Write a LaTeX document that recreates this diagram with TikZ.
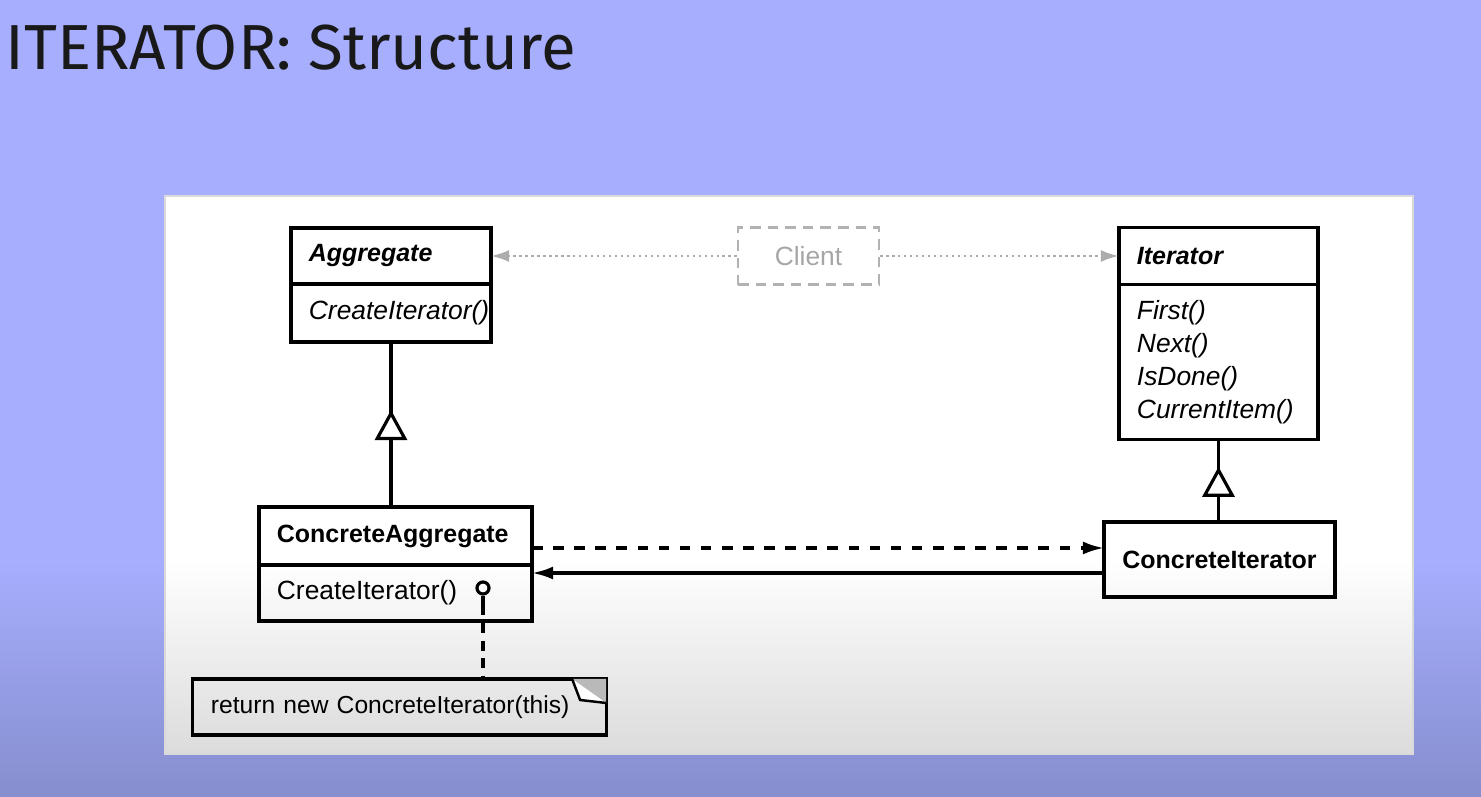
\documentclass[tikz,border=0pt]{standalone}
\usepackage{fontspec}
\setmainfont{Liberation Sans}
\newfontfamily\titlefont{Fira Sans}
\usepackage{tikz}
\usetikzlibrary{positioning,arrows.meta,decorations.markings}
\definecolor{slidetop}{RGB}{167,174,254}
\definecolor{slidebot}{RGB}{134,142,206}

\begin{document}
\begin{tikzpicture}[x=0.01cm,y=-0.01cm,>=Latex,
  uml/.style={draw,line width=0.9pt,outer sep=0pt,inner xsep=0.18cm,inner ysep=0pt,
    align=left,font=\fontsize{7.5}{9.4}\selectfont},
  umlname/.style={uml,font=\fontsize{7.1}{9}\selectfont\bfseries},
  clientbox/.style={draw=gray!60,densely dashed,line width=0.6pt,text=gray!70,
    minimum width=1.41cm,minimum height=0.57cm,font=\fontsize{7.5}{9}\selectfont},
  clientlink/.style={gray!65,densely dotted,line width=0.7pt,-{Latex[length=1.8mm,width=1.2mm]}},
  assoc/.style={line width=0.9pt,-{Latex[length=2.1mm,width=1.3mm]}},
  gen/.style={line width=0.9pt,decoration={markings,
    mark=at position #1 with {\arrow[line width=0.9pt]{Triangle[fill=white,length=3mm,width=3.2mm]}}},
    postaction={decorate}},
  notelink/.style={line width=0.9pt,dash pattern=on 2.8pt off 2.2pt}]
  % Slide
  \useasboundingbox (0,0) rectangle (1481,797);
  \fill[slidetop] (0,0) rectangle (1481,560);
  \shade[top color=slidetop,bottom color=slidebot] (0,560) rectangle (1481,797);
  \node[anchor=base west,inner sep=0,text=black!90,
    font=\titlefont\fontsize{18.1}{22}\selectfont] (title) at (5,69) {ITERATOR: Structure};
  %
  % Panel
  \fill[white] (165,196) rectangle (1413,560);
  \shade[top color=white,bottom color=black!14] (165,560) rectangle (1413,754);
  \draw[black!15,thin] (165,196) rectangle (1413,754);
  %
  % Classes
  \node[umlname,text width=1.64cm,minimum height=0.56cm] (agg) at (391,256)
    {\textit{Aggregate}};
  \node[uml,text width=1.64cm,minimum height=0.58cm,below=0pt of agg] (aggops)
    {\textit{CreateIterator()}};
  \node[umlname,text width=1.63cm,minimum height=0.57cm] (iter) at (1218.5,256)
    {\textit{Iterator}};
  \node[uml,text width=1.63cm,minimum height=1.55cm,below=0pt of iter] (iterops)
    {\textit{First()}\\ \textit{Next()}\\ \textit{IsDone()}\\ \textit{CurrentItem()}};
  \node[umlname,text width=2.37cm,minimum height=0.58cm] (cagg) at (395.5,536)
    {ConcreteAggregate};
  \node[uml,text width=2.37cm,minimum height=0.56cm,below=0pt of cagg] (caggops)
    {CreateIterator()};
  \node[umlname,align=center,minimum width=2.31cm,minimum height=0.75cm] (citer)
    at (1219.5,559.5) {ConcreteIterator};
  \node[clientbox] (client) at (808.5,256) {Client};
  %
  % Note
  \node[uml,draw=none,text width=3.77cm,minimum height=0.56cm,
    font=\fontsize{7}{9}\selectfont] (note) at (399.5,707)
    {\mbox{return new ConcreteIterator(this)}};
  \draw[line width=0.9pt] (note.south west) rectangle (note.north east);
  \fill[gray!55] (note.north east) -- ++(-34,0) -- ++(34,24) -- cycle;
  \draw[fill=white,line width=0.7pt] (note.north east) ++(-34,0) -- ++(8,21) -- ++(26,3);
  \node[circle,draw,line width=0.9pt,inner sep=0,minimum size=0.12cm] (pin) at (483,588) {};
  \draw[line width=0.9pt] (pin.south) -- ++(0,10) coordinate (pinfoot);
  \draw[notelink] (pinfoot) -- (pinfoot |- note.north);
  %
  % Connectors
  \draw[clientlink] (client.west) -- (agg.east);
  \draw[clientlink] (client.east) -- (iter.west);
  \draw[gen=0.588] (aggops.south |- cagg.north) -- (aggops.south);
  \draw[gen=0.67] (iterops.south |- citer.north) -- (iterops.south);
  \coordinate (depy) at ([yshift=0.115cm]citer.west);
  \coordinate (refy) at ([yshift=-0.135cm]citer.west);
  \draw[assoc,dashed] (cagg.east |- depy) -- (depy);
  \draw[assoc] (refy) -- (caggops.east |- refy);
  %
\end{tikzpicture}
\end{document}
